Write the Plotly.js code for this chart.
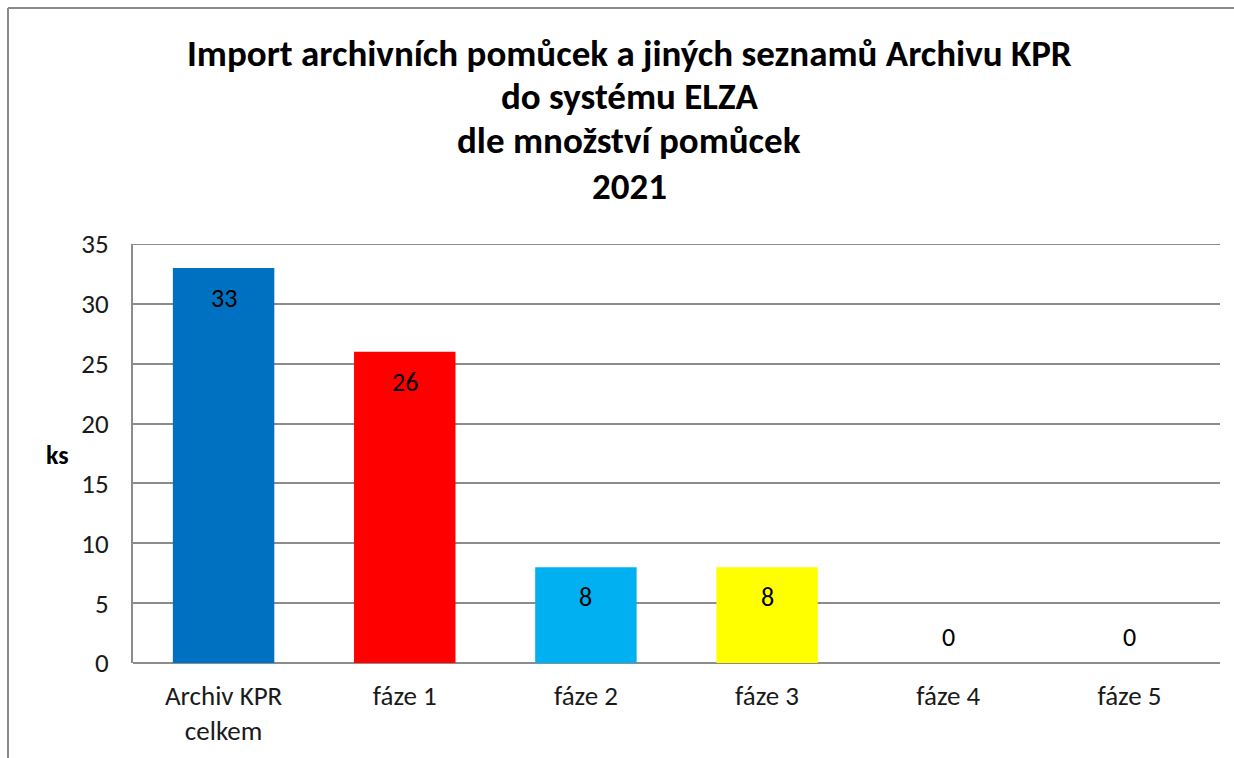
<!DOCTYPE html>
<html>
<head>
<meta charset="utf-8">
<script src="https://cdn.plot.ly/plotly-3.0.1.min.js"></script>
<style>html,body{margin:0;padding:0;background:#fff;}#chart{width:1234px;height:758px;}</style>
</head>
<body>
<div id="chart"></div>
<script>
const categories = ["Archiv KPR<br>celkem", "fáze 1", "fáze 2", "fáze 3", "fáze 4", "fáze 5"];
const values = [33, 26, 8, 8, 0, 0];
const barColors = ["#0070C0", "#FF0000", "#00B0F0", "#FFFF00", "#FFFF00", "#FFFF00"];
const yTicks = [0, 5, 10, 15, 20, 25, 30, 35];
const titleLines = ["Import archivních pomůcek a jiných seznamů Archivu KPR", "do systému ELZA", "dle množství pomůcek", "2021"];
const yLabel = "ks";
const yMax = 35;

const FONT = "Carlito, Calibri, Lato, 'Open Sans', sans-serif";
const L = 133, R = 14, T = 244, B = 95;
const W = 1234, H = 758;
const pw = W - L - R, ph = H - T - B;
function px(x) { return (x - L) / pw; }
function py(y) { return (H - B - y) / ph; }

const trace = {
  type: "bar",
  x: categories,
  y: values,
  marker: { color: barColors, line: { width: 0 } },
  hoverinfo: "none",
  showlegend: false
};

const annotations = values.map((v, i) => ({
  x: categories[i], y: v, xref: "x", yref: "y",
  text: String(v), showarrow: false, yanchor: "middle", xanchor: "center",
  yshift: v > 0 ? -30 : 26,
  font: { family: FONT, size: 26, color: "#000" }
}));
annotations.push({
  x: px(57), y: py(455), xref: "paper", yref: "paper",
  text: "<b>" + yLabel + "</b>", showarrow: false, yanchor: "middle", xanchor: "center",
  font: { family: FONT, size: 26, color: "#000" }
});
const titleY = [53, 97, 141, 186];
titleLines.forEach((t, i) => annotations.push({
  x: px(629), y: py(titleY[i]), xref: "paper", yref: "paper",
  text: "<b>" + t + "</b>", showarrow: false, yanchor: "middle", xanchor: "center",
  font: { family: FONT, size: 37, color: "#000" }
}));

const layout = {
  width: W, height: H,
  margin: { l: L, r: R, t: T, b: B, pad: 0 },
  paper_bgcolor: "#fff", plot_bgcolor: "#fff",
  bargap: 0.44,
  font: { family: FONT, color: "#000" },
  xaxis: {
    tickfont: { family: FONT, size: 27, color: "#1a1a1a" },
    showline: false, showgrid: false, ticks: "", zeroline: false, fixedrange: true,
    ticklabelstandoff: 14
  },
  yaxis: {
    range: [0, yMax], tickvals: yTicks, ticktext: yTicks.map(String),
    tickfont: { family: FONT, size: 27, color: "#1a1a1a" },
    showgrid: true, gridcolor: "#8c8c8c", gridwidth: 2,
    showline: true, linecolor: "#8c8c8c", linewidth: 2,
    zeroline: true, zerolinecolor: "#8c8c8c", zerolinewidth: 2,
    ticks: "", ticklabelstandoff: 17, fixedrange: true
  },
  annotations: annotations,
  shapes: [
    { type: "line", xref: "paper", yref: "y", x0: 0, x1: 1, y0: yMax, y1: yMax, layer: "below", line: { color: "#8c8c8c", width: 2 } },
    { type: "line", xref: "paper", yref: "paper", x0: px(8), x1: px(1234), y0: py(8), y1: py(8), line: { color: "#8a8a8a", width: 2 } },
    { type: "line", xref: "paper", yref: "paper", x0: px(8), x1: px(8), y0: py(8), y1: py(758), line: { color: "#8a8a8a", width: 2 } }
  ]
};

Plotly.newPlot("chart", [trace], layout, { displayModeBar: false, staticPlot: true });
</script>
</body>
</html>
